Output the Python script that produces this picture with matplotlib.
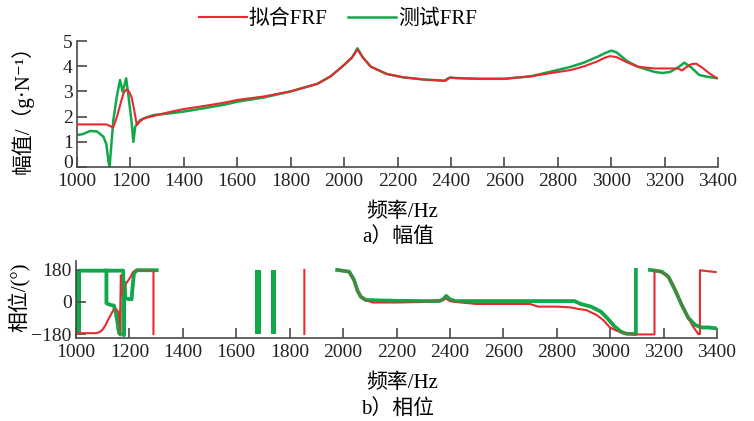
import numpy as np
import matplotlib
matplotlib.use("Agg")
import matplotlib.pyplot as plt
from matplotlib.lines import Line2D
from matplotlib.transforms import ScaledTranslation

plt.rcParams['font.family'] = ['Liberation Serif', 'Noto Sans CJK SC', 'DejaVu Serif']

RED = '#e62a2f'
GREEN = '#12a84a'
AX_COL = '#4a4a4a'

# ---- magnitude (g/N) ----
f_fit_mag = [1000, 1110, 1125, 1135, 1150, 1165, 1175, 1185, 1195, 1205, 1215, 1224, 1235,
             1250, 1300, 1350, 1400, 1475, 1550, 1600, 1700, 1800, 1900, 1950, 2000, 2030,
             2050, 2070, 2100, 2160, 2220, 2300, 2350, 2380, 2395, 2410, 2500, 2600, 2700,
             2800, 2850, 2900, 2950, 2975, 2995, 3020, 3060, 3100, 3160, 3200, 3250, 3265,
             3280, 3300, 3318, 3340, 3370, 3395]
mag_fit = [1.69, 1.69, 1.62, 1.56, 2.0, 2.6, 2.95, 3.08, 3.0, 2.75, 2.2, 1.67, 1.8,
           1.93, 2.06, 2.19, 2.3, 2.42, 2.55, 2.66, 2.8, 3.0, 3.3, 3.6, 4.05, 4.35,
           4.66, 4.35, 3.98, 3.69, 3.56, 3.47, 3.44, 3.42, 3.55, 3.53, 3.5, 3.5, 3.6,
           3.77, 3.85, 4.0, 4.2, 4.33, 4.40, 4.36, 4.15, 3.98, 3.91, 3.91, 3.91, 3.83,
           3.95, 4.08, 4.1, 3.95, 3.7, 3.53]

f_test_mag = [1000, 1020, 1049, 1075, 1099, 1110, 1118, 1122, 1128, 1136, 1149, 1161, 1171,
              1184, 1193, 1205, 1211, 1218, 1236, 1260, 1286, 1349, 1400, 1474, 1550, 1600,
              1700, 1800, 1900, 1950, 2000, 2030, 2050, 2070, 2100, 2160, 2220, 2300, 2350,
              2375, 2390, 2400, 2420, 2500, 2600, 2700, 2800, 2850, 2900, 2950, 2975, 3000,
              3020, 3060, 3100, 3160, 3190, 3220, 3250, 3274, 3300, 3330, 3360, 3395]
mag_test = [1.27, 1.3, 1.43, 1.41, 1.2, 0.9, 0.2, 0.0, 0.8, 1.86, 2.79, 3.45, 2.99,
            3.52, 2.79, 1.73, 1.0, 1.6, 1.86, 1.97, 2.06, 2.13, 2.2, 2.33, 2.47, 2.59,
            2.76, 3.0, 3.3, 3.6, 4.05, 4.35, 4.71, 4.35, 3.98, 3.69, 3.56, 3.47, 3.44,
            3.42, 3.52, 3.55, 3.53, 3.5, 3.5, 3.6, 3.85, 3.98, 4.15, 4.38, 4.51, 4.62,
            4.55, 4.2, 3.98, 3.78, 3.73, 3.77, 3.95, 4.14, 3.95, 3.65, 3.58, 3.53]

# ---- phase (deg), nan = break in the line ----
f_fit_ph = [1004, 1075, 1090, 1100, 1111, 1120, 1130, 1143, 1150, 1160, 1164, 1168, 1172,
            1186, 1195, 1205, 1212, 1220, 1290, 1290, np.nan,
            1855, 1855, np.nan,
            1980, 2020, 2040, 2053, 2066, 2085, 2110, 2200, 2300, 2370, 2385, 2400, 2420,
            2500, 2600, 2700, 2730, 2800, 2850, 2880, 2910, 2949, 2974, 2999, 3024, 3049,
            3090, 3130, 3166, 3166, 3186, 3211, 3236, 3261, 3286, 3311, 3330, 3336, 3336,
            3370, 3395]
ph_fit = [-175, -175, -168, -154, -129, -100, -73, -36, -40, -60, -180, 150, 40,
          100, 120, 142, 165, 176, 176, -180, np.nan,
          -180, 180, np.nan,
          178, 170, 124, 67, 30, 11, -3, -3, 0, 10, 20, 5, 0,
          -11, -11, -11, -26, -26, -30, -39, -45, -73, -101, -143, -161, -172,
          -182, -182, -182, 180, 170, 152, 96, 11, -73, -139, -180, -180, 178,
          172, 168]

f_test_ph = [1020, 1177, 1177, 1180, 1181, 1185, 1208, 1212, 1217, 1228, 1302, np.nan,
             1114, 1114, 1130, 1142, 1149, 1155, 1161, 1165, np.nan,
             1978, 2023, 2041, 2053, 2066, 2085, 2150, 2300, 2360, 2375, 2386, 2400, 2420,
             2500, 2600, 2700, 2800, 2866, 2890, 2928, 2965, 2990, 3015, 3040, 3060, 3096,
             3096, np.nan,
             3149, 3193, 3218, 3243, 3268, 3293, 3318, 3343, 3370, 3395]
ph_test = [176, 176, -185, -185, 110, 20, 15, 86, 161, 178, 178, np.nan,
           176, -7, -17, -20, -62, -111, -174, -180, np.nan,
           180, 170, 124, 67, 30, 11, 8, 5, 5, 15, 34, 15, 5,
           5, 5, 5, 5, 5, -11, -26, -54, -92, -135, -167, -178, -180,
           180, np.nan,
           180, 170, 142, 67, -17, -90, -129, -143, -143, -148]

# frequency ranges where the measured phase wraps back and forth
test_wrap_lo = [1000, 1670, 1731]
test_wrap_hi = [1020, 1693, 1748]

xticks = list(range(1000, 3401, 200))


def style_axis(ax):
    for s in ['top', 'right']:
        ax.spines[s].set_visible(False)
    for s in ['left', 'bottom']:
        ax.spines[s].set_color(AX_COL)
        ax.spines[s].set_linewidth(1.2)
    ax.tick_params(direction='in', length=7, width=1.2, color=AX_COL,
                   labelsize=14, labelcolor='#222222', pad=3)
    ax.tick_params(axis='x', pad=4)
    ax.set_xlim(1000, 3400)
    ax.set_xticks(xticks)


fig = plt.figure(figsize=(7.54, 4.21), dpi=100)

ax1 = fig.add_axes([77 / 754, 1 - 167 / 421, 641 / 754, 126 / 421])
ax1.plot(f_fit_mag, mag_fit, color=RED, lw=1.5, zorder=3)
ax1.plot(f_test_mag, mag_test, color=GREEN, lw=1.8, zorder=2)
ax1.set_ylim(0, 5)
ax1.set_yticks([0, 1, 2, 3, 4, 5])
style_axis(ax1)
# lift the "0" a touch so it clears the "1000" below it
zero_lab = ax1.yaxis.get_major_ticks()[0].label1
zero_lab.set_transform(zero_lab.get_transform() + ScaledTranslation(0, 4 / 72, fig.dpi_scale_trans))

ax2 = fig.add_axes([76 / 754, 1 - 338 / 421, 641 / 754, 77 / 421])
for lo, hi in zip(test_wrap_lo, test_wrap_hi):
    ax2.fill_betweenx([-180, 180], lo, hi, color=GREEN, lw=0)
ax2.plot(f_test_ph, ph_test, color=GREEN, lw=2.6)
ax2.plot(f_fit_ph, ph_fit, color=RED, lw=1.5)
ax2.plot(f_test_ph, ph_test, color=GREEN, lw=2.6, alpha=0.6)
ax2.set_ylim(-202, 230)
ax2.set_yticks([-180, 0, 180])
ax2.set_yticklabels(['\u2212180', '0', '180'])
style_axis(ax2)

# legend
handles = [Line2D([], [], color=RED, lw=1.5), Line2D([], [], color=GREEN, lw=1.8)]
fig.legend(handles, ['拟合FRF', '测试FRF'], loc='center', bbox_to_anchor=(338 / 754, 1 - 19 / 421),
           ncol=2, frameon=False, fontsize=15, handlelength=2.3, handletextpad=0.1,
           columnspacing=1.0)

# labels
fig.text(22 / 754, 1 - 104 / 421, '幅值/（g·N⁻¹）', rotation=90, ha='center', va='center', fontsize=15)
fig.text(19 / 754, 1 - 297 / 421, '相位/(°)', rotation=90, ha='center', va='center', fontsize=15)
fig.text(402 / 754, 1 - 212 / 421, '频率/Hz', ha='center', va='center', fontsize=15)
fig.text(398 / 754, 1 - 237 / 421, 'a）幅值', ha='center', va='center', fontsize=15)
fig.text(402 / 754, 1 - 383 / 421, '频率/Hz', ha='center', va='center', fontsize=15)
fig.text(398 / 754, 1 - 409 / 421, 'b）相位', ha='center', va='center', fontsize=15)

fig.savefig('out.png', dpi=100)
